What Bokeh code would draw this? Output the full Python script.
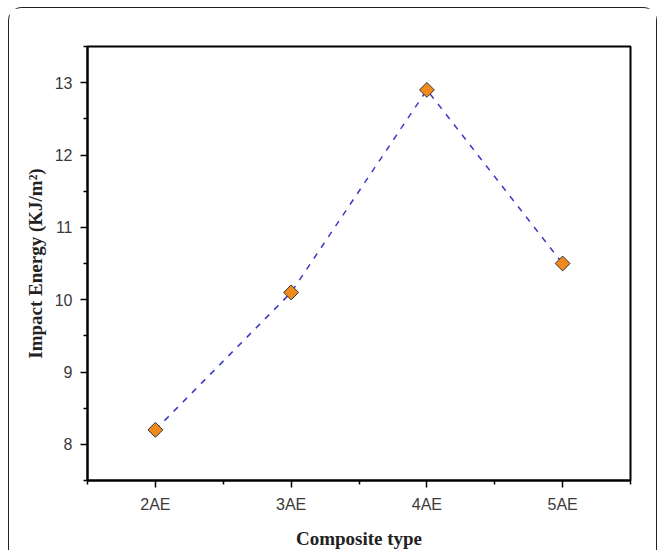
import math
from bokeh.plotting import figure
from bokeh.models import Range1d, FixedTicker, ColumnDataSource
from bokeh.embed import file_html
from bokeh.resources import INLINE

categories = ["2AE", "3AE", "4AE", "5AE"]
impact_energy = [8.2, 10.1, 12.9, 10.5]
y_ticks = [8, 9, 10, 11, 12, 13]
y_minor_ticks = [7.5, 8.5, 9.5, 10.5, 11.5, 12.5, 13.5]

x_pos = [i + 2 for i in range(len(categories))]
x_minor = [x_pos[0] - 0.5] + [x + 0.5 for x in x_pos]

src = ColumnDataSource(dict(x=x_pos, y=impact_energy, cat=categories))

p = figure(width=649, height=543, output_backend="svg", toolbar_location=None,
           x_range=Range1d(x_pos[0] - 0.5, x_pos[-1] + 0.5),
           y_range=Range1d(7.5, 13.5),
           min_border_left=78, min_border_right=28, min_border_top=38, min_border_bottom=70,
           margin=(7, 0, 0, 8),
           styles={"border-top": "1.5px solid #222", "border-left": "1.5px solid #222",
                   "border-right": "1.5px solid #222", "border-top-left-radius": "14px",
                   "border-top-right-radius": "14px", "background": "white"})

p.background_fill_color = "white"
p.border_fill_color = "white"
p.outline_line_color = "black"
p.outline_line_width = 2
p.xgrid.visible = False
p.ygrid.visible = False

p.line("x", "y", source=src, line_color="#3b3bc8", line_width=1.5, line_dash="6 7")
p.scatter("x", "y", source=src, marker="square", angle=math.pi / 4, size=10.5,
          fill_color="#f08a1c", line_color="#333333", line_width=1)

for ax in (p.xaxis[0], p.yaxis[0]):
    ax.axis_line_width = 2
    ax.axis_line_color = "black"
    ax.major_tick_line_color = "black"
    ax.minor_tick_line_color = "black"
    ax.major_tick_line_width = 1.5
    ax.minor_tick_line_width = 1.5
    ax.major_tick_out = 7
    ax.major_tick_in = 0
    ax.minor_tick_out = 4
    ax.minor_tick_in = 0
    ax.major_label_text_font = "Liberation Sans"
    ax.major_label_text_font_size = "16px"
    ax.major_label_text_color = "#3a3a3a"
    ax.axis_label_text_font = "Liberation Serif"
    ax.axis_label_text_font_style = "bold"
    ax.axis_label_text_font_size = "19px"
    ax.axis_label_text_color = "#222222"

p.xaxis.ticker = FixedTicker(ticks=x_pos, minor_ticks=x_minor)
p.xaxis.major_label_overrides = {x: c for x, c in zip(x_pos, categories)}
p.xaxis.major_label_standoff = 8
p.xaxis.axis_label = "Composite type"
p.xaxis.axis_label_standoff = 12

p.yaxis.ticker = FixedTicker(ticks=y_ticks, minor_ticks=y_minor_ticks)
p.yaxis.major_label_standoff = 8
p.yaxis.axis_label = "Impact Energy (KJ/m²)"
p.yaxis.axis_label_standoff = 6

open("out.html", "w").write(file_html(p, INLINE))
